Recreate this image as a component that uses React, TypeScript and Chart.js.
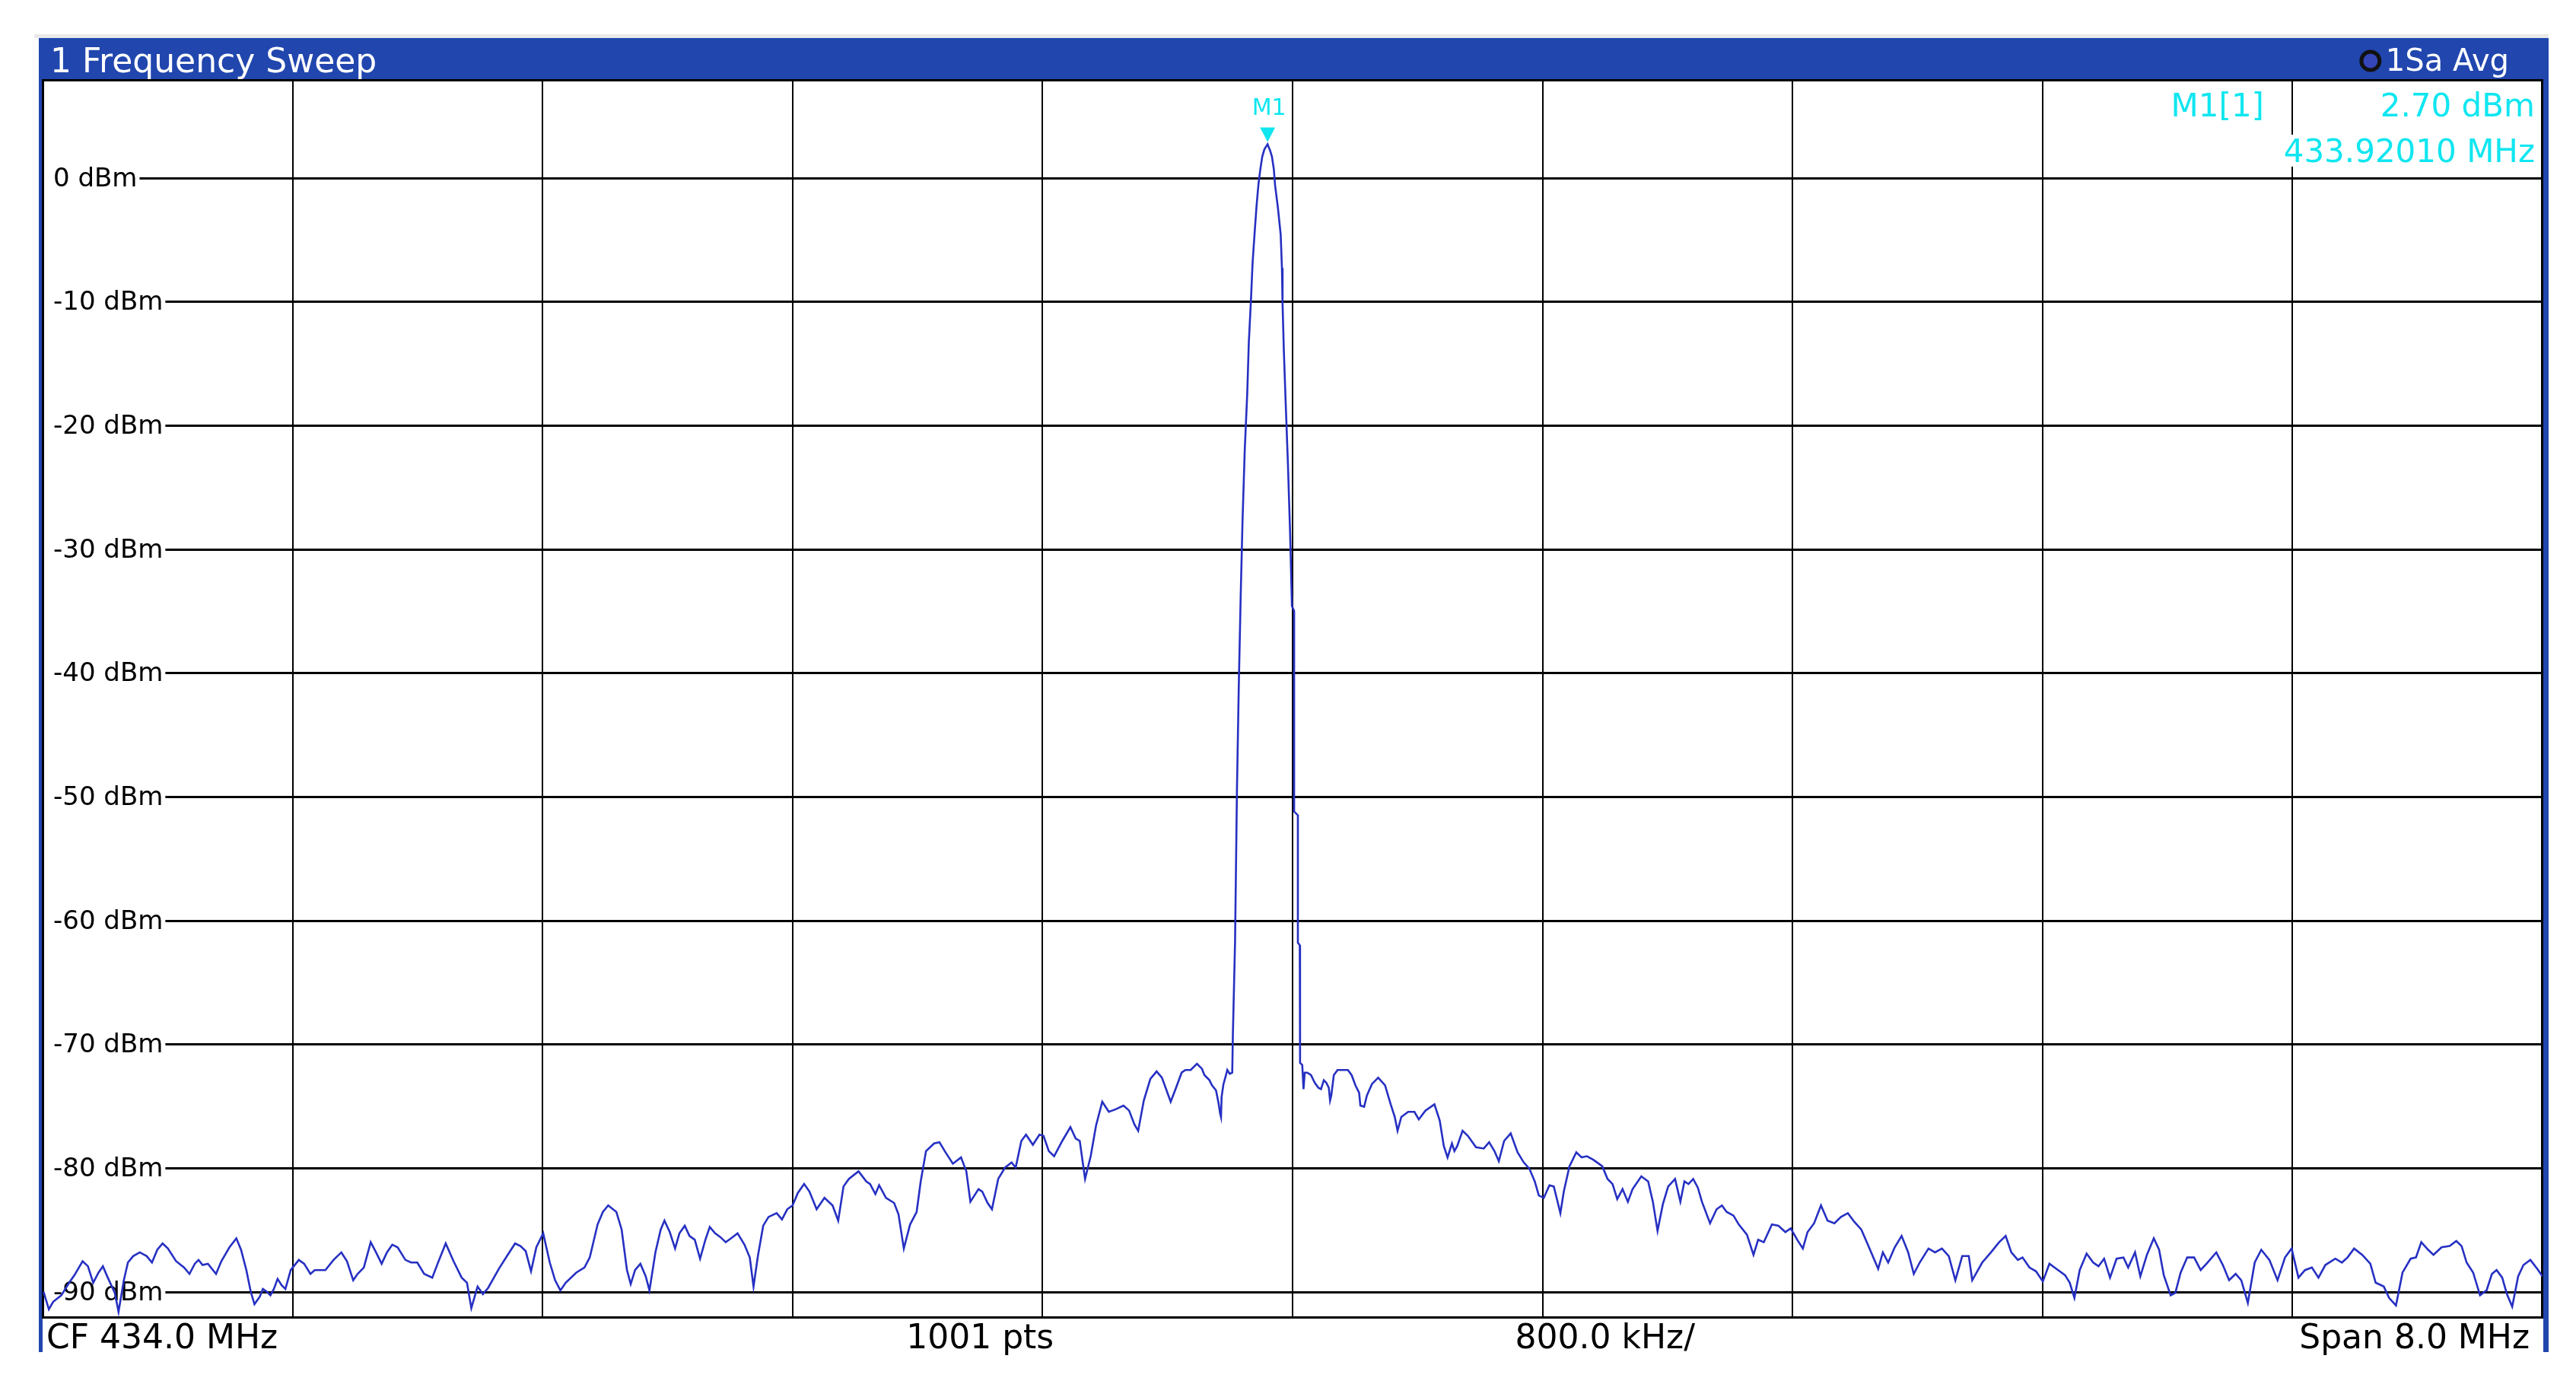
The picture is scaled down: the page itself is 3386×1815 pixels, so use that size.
import React, { useEffect, useRef } from "react";
import { Chart, registerables } from "chart.js";

Chart.register(...registerables);

// ---- Data (frequency in MHz, level in dBm) ----
const traceLowBand: [number, number][] = [
  [430.003,-89.98],[430.020,-91.41],[430.034,-90.80],[430.060,-90.28],[430.085,-89.26],[430.102,-88.65],[430.128,-87.52],[430.145,-87.93],[430.162,-89.26],[430.179,-88.44],[430.193,-87.93],[430.205,-88.65],[430.231,-90.08],[430.243,-91.61],[430.260,-89.06],[430.273,-87.63],[430.290,-87.11],[430.311,-86.81],[430.333,-87.11],[430.350,-87.63],[430.367,-86.60],[430.384,-86.09],[430.401,-86.50],[430.427,-87.52],[430.453,-88.04],[430.470,-88.55],[430.487,-87.73],[430.499,-87.42],[430.512,-87.83],[430.529,-87.73],[430.555,-88.55],[430.572,-87.52],[430.598,-86.40],[430.620,-85.68],[430.635,-86.60],[430.652,-88.24],[430.666,-89.98],[430.678,-91.00],[430.695,-90.39],[430.705,-89.77],[430.717,-89.98],[430.729,-90.28],[430.740,-89.77],[430.752,-88.96],[430.765,-89.47],[430.777,-89.77],[430.794,-88.24],[430.820,-87.42],[430.837,-87.73],[430.857,-88.55],[430.871,-88.24],[430.905,-88.24],[430.931,-87.42],[430.956,-86.81],[430.974,-87.52],[430.994,-89.06],[431.008,-88.55],[431.028,-88.04],[431.050,-85.99],[431.067,-86.81],[431.085,-87.73],[431.102,-86.81],[431.119,-86.19],[431.136,-86.40],[431.161,-87.42],[431.179,-87.63],[431.199,-87.63],[431.221,-88.55],[431.247,-88.85],[431.264,-87.73],[431.290,-86.09],[431.315,-87.52],[431.341,-88.85],[431.358,-89.26],[431.372,-91.31],[431.392,-89.57],[431.409,-90.18],[431.426,-89.67],[431.460,-88.14],[431.486,-87.11],[431.512,-86.09],[431.529,-86.30],[431.546,-86.71],[431.563,-88.34],[431.580,-86.40],[431.602,-85.27],[431.623,-87.63],[431.640,-89.06],[431.657,-89.88],[431.674,-89.26],[431.708,-88.44],[431.734,-88.04],[431.751,-87.22],[431.776,-84.56],[431.793,-83.54],[431.810,-83.02],[431.836,-83.54],[431.853,-84.97],[431.870,-88.24],[431.882,-89.37],[431.896,-88.24],[431.913,-87.73],[431.930,-88.75],[431.942,-89.88],[431.961,-86.81],[431.978,-84.97],[431.990,-84.25],[432.007,-85.17],[432.024,-86.50],[432.038,-85.27],[432.055,-84.66],[432.070,-85.48],[432.087,-85.79],[432.104,-87.32],[432.121,-85.79],[432.135,-84.76],[432.152,-85.27],[432.169,-85.58],[432.186,-85.99],[432.203,-85.68],[432.224,-85.27],[432.246,-86.19],[432.263,-87.22],[432.275,-89.57],[432.289,-87.11],[432.306,-84.66],[432.323,-83.95],[432.349,-83.64],[432.366,-84.15],[432.383,-83.33],[432.400,-83.02],[432.417,-82.00],[432.437,-81.29],[432.454,-81.90],[432.477,-83.33],[432.502,-82.41],[432.528,-83.02],
];

const traceApproach: [number, number][] = [
  [432.546,-84.25],[432.563,-81.49],[432.580,-80.88],[432.611,-80.26],[432.636,-81.08],[432.648,-81.29],[432.665,-82.10],[432.677,-81.39],[432.699,-82.41],[432.725,-82.82],[432.739,-83.74],[432.756,-86.50],[432.776,-84.56],[432.797,-83.54],[432.810,-81.08],[432.827,-78.63],[432.853,-78.01],[432.870,-77.91],[432.887,-78.63],[432.913,-79.65],[432.939,-79.14],[432.956,-80.26],[432.969,-82.72],[432.995,-81.70],[433.007,-81.90],[433.024,-82.82],[433.038,-83.33],[433.058,-80.88],[433.080,-79.96],[433.101,-79.55],[433.114,-79.96],[433.132,-77.81],[433.147,-77.30],[433.169,-78.12],[433.190,-77.30],[433.203,-77.40],[433.220,-78.63],[433.237,-79.04],[433.263,-77.81],[433.289,-76.69],[433.306,-77.61],[433.319,-77.81],[433.336,-80.88],[433.354,-79.04],[433.371,-76.58],[433.391,-74.64],[433.412,-75.46],[433.434,-75.25],[433.459,-74.95],[433.477,-75.36],[433.494,-76.48],[433.506,-76.99],[433.524,-74.54],[433.545,-72.80],[433.565,-72.19],[433.582,-72.70],[433.610,-74.64],[433.627,-73.52],
  [433.645,-72.29],[433.657,-72.08],[433.674,-72.08],[433.694,-71.57],[433.710,-71.98],[433.718,-72.49],[433.734,-72.90],[433.742,-73.31],[433.755,-73.72],[433.763,-74.74],[433.768,-75.56],[433.771,-75.87],[433.773,-74.23],[433.779,-73.21],[433.787,-72.49],[433.791,-72.08],[433.799,-72.39],[433.807,-72.29],
];

const tracePeak: [number, number][] = [
  [433.809,-69.2],[433.816,-61.7],[433.822,-49.5],[433.828,-40.9],[433.834,-33.8],[433.840,-27.6],[433.847,-22.0],[433.855,-17.4],[433.860,-13.3],[433.867,-9.8],[433.872,-6.9],[433.879,-4.3],[433.885,-2.2],[433.891,-0.5],[433.897,0.7],[433.903,1.7],[433.910,2.3],[433.920,2.7],[433.928,2.2],[433.934,1.7],[433.940,0.7],[433.944,-0.6],[433.953,-2.4],[433.962,-4.6],[433.966,-7.3],[433.968,-10.2],[433.972,-13.9],[433.978,-18.2],[433.985,-23.0],[433.992,-28.6],[433.998,-34.6],[434.005,-35.0],[434.005,-51.2],[434.017,-51.5],[434.017,-61.8],[434.023,-62.0],[434.024,-71.5],
];

const traceRecede: [number, number][] = [
  [434.031,-71.67],[434.035,-73.62],[434.039,-72.29],[434.047,-72.29],[434.059,-72.49],[434.071,-73.11],[434.083,-73.52],[434.091,-73.62],[434.100,-72.90],[434.108,-73.11],[434.116,-73.52],[434.120,-74.54],[434.124,-74.13],[434.132,-72.49],[434.144,-72.08],[434.160,-72.08],[434.177,-72.08],[434.189,-72.49],[434.201,-73.31],[434.213,-73.92],[434.217,-74.95],[434.229,-75.05],[434.238,-74.13],
  [434.254,-73.21],[434.274,-72.70],[434.296,-73.31],[434.314,-74.85],[434.327,-75.87],[434.336,-76.99],[434.348,-75.87],[434.370,-75.46],[434.390,-75.46],[434.404,-76.07],[434.425,-75.36],[434.454,-74.85],[434.471,-76.17],[434.484,-78.22],[434.496,-79.14],[434.510,-78.01],[434.518,-78.63],[434.527,-78.22],[434.544,-76.99],[434.561,-77.40],[434.587,-78.32],[434.612,-78.42],[434.629,-77.91],[434.646,-78.63],[434.660,-79.44],[434.677,-77.81],[434.698,-77.20],[434.720,-78.73],[434.740,-79.55],[434.758,-80.06],[434.775,-81.08],[434.788,-82.21],[434.804,-82.41],[434.822,-81.39],[434.836,-81.49],[434.846,-82.51],[434.857,-83.64],[434.868,-81.90],[434.886,-79.86],[434.908,-78.73],[434.925,-79.14],[434.942,-79.04],[434.963,-79.34],
];

const traceHighBand: [number, number][] = [
  [434.991,-79.85],[435.008,-80.88],[435.024,-81.29],[435.039,-82.51],[435.056,-81.70],[435.073,-82.72],[435.088,-81.70],[435.116,-80.67],[435.138,-81.08],[435.153,-82.72],[435.168,-85.07],[435.185,-82.92],[435.202,-81.49],[435.224,-80.88],[435.241,-82.72],[435.254,-81.08],[435.267,-81.29],[435.282,-80.88],[435.297,-81.59],[435.310,-82.72],[435.336,-84.46],[435.357,-83.33],[435.374,-83.02],[435.389,-83.54],[435.411,-83.84],[435.428,-84.56],[435.454,-85.38],[435.475,-87.01],[435.490,-85.79],[435.508,-85.99],[435.534,-84.56],[435.555,-84.66],[435.577,-85.17],[435.594,-84.87],[435.615,-85.79],[435.633,-86.50],[435.648,-85.17],[435.669,-84.46],[435.691,-83.02],[435.712,-84.25],[435.734,-84.46],[435.755,-83.94],[435.777,-83.64],[435.798,-84.35],[435.820,-84.97],[435.841,-86.19],[435.874,-88.14],[435.889,-86.81],[435.906,-87.63],[435.927,-86.40],[435.949,-85.48],[435.970,-86.81],[435.988,-88.55],[436.007,-87.63],[436.035,-86.50],[436.056,-86.81],[436.078,-86.50],[436.100,-87.11],[436.121,-89.06],[436.143,-87.11],[436.164,-87.11],[436.175,-89.06],[436.207,-87.63],[436.235,-86.81],[436.261,-85.99],[436.282,-85.48],[436.300,-86.81],[436.321,-87.42],[436.336,-87.22],[436.358,-88.03],[436.379,-88.34],[436.401,-89.16],[436.422,-87.73],[436.444,-88.14],[436.472,-88.65],[436.487,-89.26],[436.502,-90.49],[436.519,-88.24],[436.541,-86.91],[436.562,-87.63],[436.579,-87.93],[436.597,-87.32],[436.616,-88.85],[436.637,-87.32],[436.659,-87.22],[436.674,-88.03],[436.696,-86.81],[436.713,-88.75],[436.734,-87.01],[436.756,-85.68],[436.773,-86.60],[436.788,-88.65],[436.810,-90.28],[436.825,-90.08],[436.842,-88.44],[436.863,-87.22],[436.885,-87.22],[436.906,-88.24],[436.928,-87.63],[436.956,-86.81],[436.977,-87.83],[436.997,-89.06],[437.018,-88.55],[437.036,-89.06],[437.057,-90.90],[437.079,-87.63],[437.100,-86.60],[437.126,-87.42],[437.152,-89.06],[437.176,-87.22],[437.197,-86.50],[437.219,-88.85],[437.240,-88.24],[437.262,-88.03],[437.283,-88.85],[437.305,-87.83],[437.337,-87.32],[437.358,-87.63],[437.376,-87.22],[437.397,-86.50],[437.423,-87.01],[437.449,-87.73],[437.466,-89.26],[437.492,-89.57],[437.509,-90.49],[437.531,-91.10],[437.552,-88.44],[437.578,-87.32],[437.595,-87.22],[437.612,-85.99],[437.634,-86.60],[437.651,-87.01],[437.677,-86.40],[437.703,-86.30],[437.724,-85.89],[437.741,-86.30],[437.757,-87.63],[437.778,-88.44],[437.800,-90.28],[437.821,-89.88],[437.838,-88.55],[437.853,-88.24],[437.871,-88.85],[437.886,-90.18],[437.903,-91.20],[437.922,-88.75],[437.939,-87.83],[437.961,-87.42],[437.983,-88.14],[438.000,-88.75],
];

const freqStartMHz = 430.0;
const freqStopMHz = 438.0;
const levelMinDbm = -92.1;
const levelMaxDbm = 7.9;
const xGridMHz = [430.8, 431.6, 432.4, 433.2, 434.0, 434.8, 435.6, 436.4, 437.2];
const yTickDbm = [0, -10, -20, -30, -40, -50, -60, -70, -80, -90];
const yTickLabels = yTickDbm.map((v) => `${v} dBm`);
const titleText = "1 Frequency Sweep";
const statusText = "1Sa Avg";
const footerLeft = "CF 434.0 MHz";
const footerMid1 = "1001 pts";
const footerMid2 = "800.0 kHz/";
const footerRight = "Span 8.0 MHz";
const markerName = "M1";
const markerFreqMHz = 433.9201;
const markerLevelDbm = 2.7;
const markerInfo = ["M1[1]", "2.70 dBm", "433.92010 MHz"];

const FONT = '"DejaVu Sans", "Liberation Sans", sans-serif';
const HEADER_BLUE = "#2146ae";
const TRACE_BLUE = "#2630c2";
const CYAN = "#10e6f0";

const framePlugin = {
  id: "rsFrame",
  beforeDraw(chart: any) {
    const { ctx, chartArea: a, width, height } = chart;
    ctx.save();
    ctx.fillStyle = "#ffffff";
    ctx.fillRect(0, 0, width, height);
    // light outer edge
    ctx.fillStyle = "#e9e9e9";
    ctx.fillRect(a.left - 11, a.top - 60, a.right - a.left + 19, 5);
    // header bar
    ctx.fillStyle = HEADER_BLUE;
    ctx.fillRect(a.left - 5, a.top - 55, a.right - a.left + 13, 55);
    // side strips
    ctx.fillRect(a.left - 5, a.top, 5, a.bottom - a.top + 45);
    ctx.fillRect(a.right + 1, a.top, 7, a.bottom - a.top + 45);
    // header texts
    ctx.fillStyle = "#ffffff";
    ctx.textBaseline = "alphabetic";
    ctx.font = `44px ${FONT}`;
    ctx.textAlign = "left";
    ctx.fillText(titleText, a.left + 10, a.top - 10);
    ctx.font = `40px ${FONT}`;
    ctx.textAlign = "right";
    ctx.fillText(statusText, a.right - 44, a.top - 12);
    const sw = ctx.measureText(statusText).width;
    const cx = a.right - 44 - sw - 20;
    const cy = a.top - 25;
    ctx.beginPath();
    ctx.arc(cx, cy, 12, 0, Math.PI * 2);
    ctx.fillStyle = "#3446b8";
    ctx.fill();
    ctx.lineWidth = 5;
    ctx.strokeStyle = "#111111";
    ctx.stroke();
    // footer
    ctx.fillStyle = "#000000";
    ctx.font = `44px ${FONT}`;
    const fy = a.bottom + 40;
    const w = a.right - a.left;
    ctx.textAlign = "left";
    ctx.fillText(footerLeft, a.left + 5, fy);
    ctx.textAlign = "center";
    ctx.fillText(footerMid1, a.left + w * 0.375, fy);
    ctx.fillText(footerMid2, a.left + w * 0.625, fy);
    ctx.textAlign = "right";
    ctx.fillText(footerRight, a.right - 17, fy);
    ctx.restore();
  },
  beforeDatasetsDraw(chart: any) {
    const { ctx, chartArea: a, scales } = chart;
    const xs = scales.x;
    const ys = scales.y;
    ctx.save();
    ctx.strokeStyle = "#000000";
    // vertical grid
    ctx.lineWidth = 2;
    xGridMHz.forEach((f) => {
      const x = Math.round(xs.getPixelForValue(f));
      ctx.beginPath();
      ctx.moveTo(x, a.top);
      ctx.lineTo(x, a.bottom);
      ctx.stroke();
    });
    // horizontal grid with labels
    ctx.font = `34px ${FONT}`;
    ctx.textAlign = "left";
    ctx.textBaseline = "middle";
    ctx.fillStyle = "#000000";
    yTickDbm.forEach((v, i) => {
      const y = Math.round(ys.getPixelForValue(v)) + 0.5;
      const lx = a.left + 14;
      const tw = ctx.measureText(yTickLabels[i]).width;
      ctx.lineWidth = 3;
      ctx.beginPath();
      ctx.moveTo(lx + tw + 3, y);
      ctx.lineTo(a.right, y);
      ctx.stroke();
      ctx.fillText(yTickLabels[i], lx, y + 2);
    });
    // frame
    ctx.lineWidth = 3;
    ctx.strokeRect(a.left + 0.5, a.top + 0.5, a.right - a.left - 1, a.bottom - a.top - 1);
    ctx.restore();
  },
  afterDatasetsDraw(chart: any) {
    const { ctx, chartArea: a, scales } = chart;
    const xs = scales.x;
    const ys = scales.y;
    ctx.save();
    const mx = xs.getPixelForValue(markerFreqMHz);
    const my = ys.getPixelForValue(markerLevelDbm);
    ctx.fillStyle = CYAN;
    ctx.beginPath();
    ctx.moveTo(mx - 10, my - 22);
    ctx.lineTo(mx + 10, my - 22);
    ctx.lineTo(mx, my - 3);
    ctx.closePath();
    ctx.fill();
    ctx.font = `30px ${FONT}`;
    ctx.textAlign = "center";
    ctx.textBaseline = "alphabetic";
    ctx.fillText(markerName, mx + 2, my - 39);
    // marker info box
    ctx.font = `42px ${FONT}`;
    ctx.textAlign = "right";
    ctx.fillText(markerInfo[0], a.right - 366, a.top + 48);
    ctx.fillText(markerInfo[1], a.right - 10, a.top + 48);
    const w2 = ctx.measureText(markerInfo[2]).width;
    ctx.fillStyle = "#ffffff";
    ctx.fillRect(a.right - 10 - w2 - 2, a.top + 72, w2 + 4, 42);
    ctx.fillStyle = CYAN;
    ctx.fillText(markerInfo[2], a.right - 10, a.top + 108);
    ctx.restore();
  },
};

export default function App() {
  const canvasRef = useRef<HTMLCanvasElement | null>(null);

  useEffect(() => {
    document.body.style.margin = "0";
    const canvas = canvasRef.current;
    if (!canvas) return;
    const points = [...traceLowBand, ...traceApproach, ...tracePeak, ...traceRecede, ...traceHighBand].map(
      ([x, y]) => ({ x, y })
    );
    const chart = new Chart(canvas, {
      type: "line",
      data: {
        datasets: [
          {
            data: points,
            borderColor: TRACE_BLUE,
            borderWidth: 2.6,
            pointRadius: 0,
            tension: 0,
            fill: false,
          },
        ],
      },
      options: {
        animation: false,
        responsive: false,
        maintainAspectRatio: false,
        devicePixelRatio: 1,
        events: [],
        layout: { padding: { left: 56, top: 105, right: 44, bottom: 83 } },
        plugins: { legend: { display: false }, tooltip: { enabled: false } },
        scales: {
          x: { type: "linear", min: freqStartMHz, max: freqStopMHz, display: false },
          y: { type: "linear", min: levelMinDbm, max: levelMaxDbm, display: false },
        },
      },
      plugins: [framePlugin],
    } as any);
    return () => chart.destroy();
  }, []);

  return (
    <div style={{ width: 3386, height: 1815, position: "relative", background: "#fff" }}>
      <canvas ref={canvasRef} width={3386} height={1815} style={{ display: "block", width: 3386, height: 1815 }} />
    </div>
  );
}
